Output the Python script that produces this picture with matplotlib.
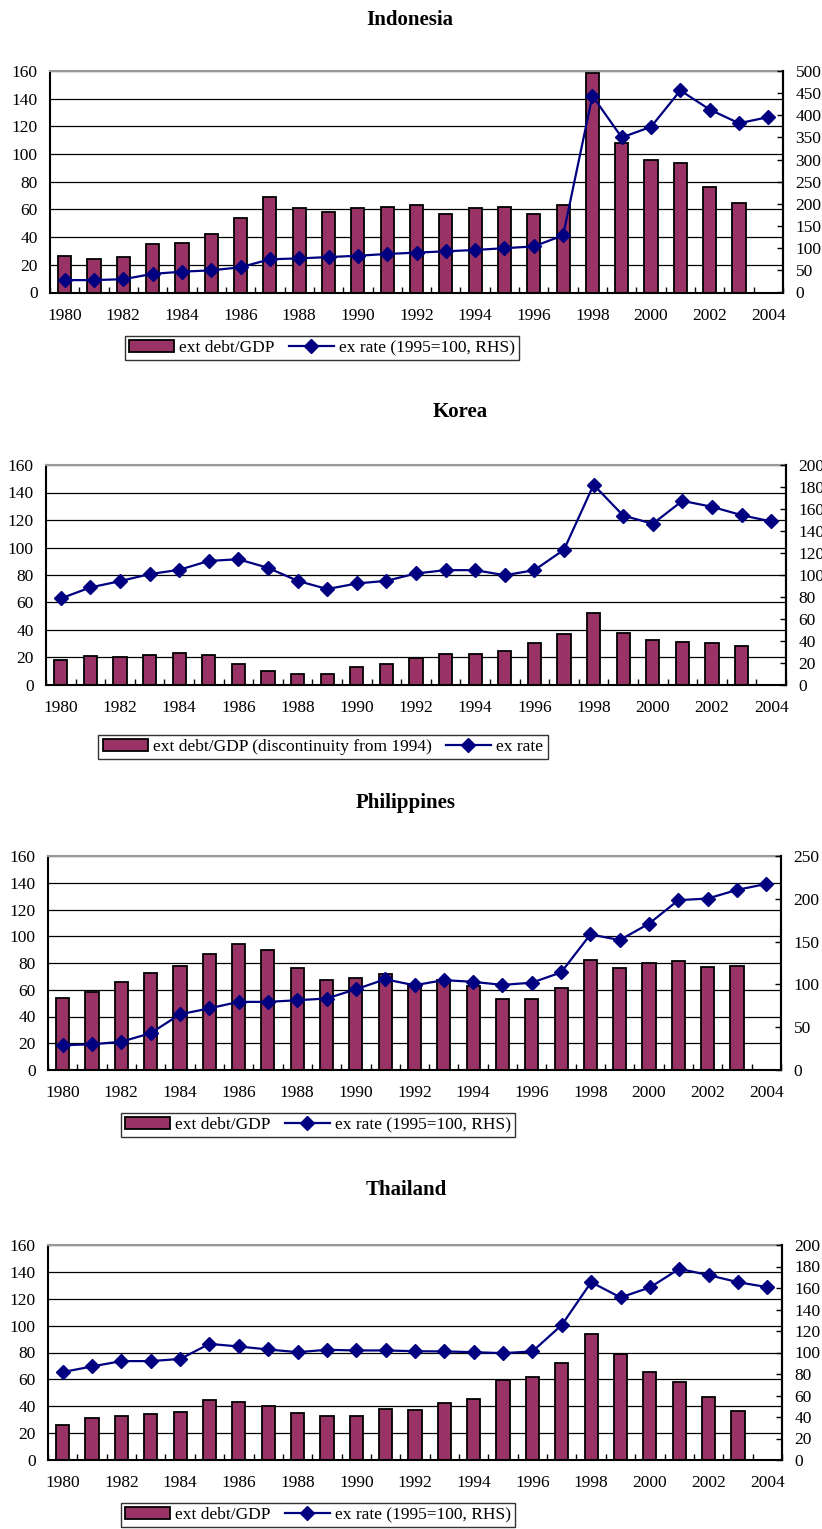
import matplotlib
matplotlib.use("Agg")
import matplotlib.pyplot as plt
import numpy as np

plt.rcParams.update({
    "font.family": "Liberation Serif",
    "font.size": 12.5,
})

W, H = 822, 1529

years = list(range(1980, 2005))
year_labels = [str(y) if y % 2 == 0 else "" for y in years]

# Indonesia
idn_debt = [26.5, 24.5, 26, 35, 36, 42, 53.5, 69, 61, 58.5, 61, 62, 63, 56.5, 61, 61.5,
            56.5, 63, 158.5, 108, 96, 93.5, 76, 64.5, np.nan]
idn_rate = [28, 28, 30, 42, 47, 50, 57, 75, 77, 80, 83, 87, 90, 93, 96, 100,
            104, 129, 444, 350, 374, 456, 413, 382, 396]

# Korea
kor_debt = [18.3, 21, 20.7, 21.5, 23, 21.7, 15.2, 10, 8.2, 8.2, 13.3, 15.2, 19.3, 22.5, 22.7,
            24.6, 30.7, 37, 52.2, 38, 32.6, 31, 30.4, 28.3, np.nan]
kor_rate = [78.7, 88.7, 94.4, 100.8, 104.7, 112.8, 114.3, 106.5, 94.7, 87.2, 92.3, 94.7, 101.4,
            104.4, 104.4, 99.8, 104.4, 123, 182, 154, 146.6, 167.4, 162, 154.4, 148.7]

# Philippines
phl_debt = [53.7, 58.4, 65.6, 72.8, 77.5, 86.7, 94.4, 89.7, 76.3, 67.1, 69, 71.8, 63.6, 67.3,
            62.9, 53.2, 53.2, 61.6, 82, 76.3, 80.2, 81.2, 77, 77.8, np.nan]
phl_rate = [29, 30, 33, 43, 65, 72, 79.6, 79.6, 81.5, 83.5, 94.3, 106, 99, 105, 103, 99.4,
            102, 114, 158.4, 151.8, 171, 198.4, 200.3, 210.4, 217.4]

# Thailand
tha_debt = [25.7, 30.9, 33.1, 34.3, 35.6, 45, 43, 40, 35, 32.6, 32.8, 38.3, 37.5, 42.2, 45.4,
            59.3, 61.7, 72.3, 93.8, 79, 65.2, 58, 46.7, 36.3, np.nan]
tha_rate = [81.8, 87, 92, 92, 94, 108, 105.6, 102.8, 100.3, 102.5, 101.9, 101.9, 101.2, 101,
            100.3, 99.4, 101, 125.6, 165.4, 151.2, 160.5, 177.8, 172, 165.4, 160.8]

BAR_COLOR = "#993366"
LINE_COLOR = "#000080"


def fig_rect(left, right, top, bottom):
    return [left / W, 1 - bottom / H, (right - left) / W, (bottom - top) / H]


def draw_panel(fig, rect, title, title_xy, debt, rate, rmax, rstep,
               bar_label, line_label, legend_xy):
    ax = fig.add_axes(rect)
    x = np.arange(len(years))
    ax.set_axisbelow(True)
    for v in range(20, 161, 20):
        ax.axhline(v, color="black", lw=0.9, zorder=0)
    bars = ax.bar(x, debt, width=0.45, color=BAR_COLOR, edgecolor="black",
                  linewidth=1.3, zorder=2)
    ax.set_xlim(-0.5, len(years) - 0.5)
    ax.set_ylim(0, 160)
    ax.set_yticks(range(0, 161, 20))
    ax.set_xticks(x)
    ax.set_xticklabels(year_labels)
    ax.set_xticks(np.arange(-0.5, len(years), 1), minor=True)
    ax.tick_params(axis="x", which="major", length=0, pad=11)
    ax.tick_params(axis="x", which="minor", direction="in", length=4, width=1)
    ax.tick_params(axis="y", length=0, pad=9)
    ax.spines["top"].set_color("#999999")
    ax.spines["top"].set_linewidth(1.5)
    for s in ("left", "bottom", "right"):
        ax.spines[s].set_linewidth(1.5)

    ax2 = ax.twinx()
    line, = ax2.plot(x, rate, color=LINE_COLOR, lw=1.6, marker="D", markersize=7,
                     zorder=3)
    ax2.set_ylim(0, rmax)
    ax2.set_yticks(np.arange(0, rmax + 1, rstep))
    ax2.tick_params(axis="y", direction="in", length=4, width=1, pad=9)
    ax2.spines["top"].set_visible(False)
    ax2.spines["right"].set_linewidth(1.5)
    ax2.spines["left"].set_visible(False)
    ax2.spines["bottom"].set_visible(False)

    fig.text(title_xy[0] / W, 1 - title_xy[1] / H, title, ha="center", va="center",
             fontsize=15, fontweight="bold")

    leg = fig.legend([bars, line], [bar_label, line_label], loc="center",
                     bbox_to_anchor=(legend_xy[0] / W, 1 - legend_xy[1] / H),
                     ncol=2, frameon=True, fancybox=False, shadow=False,
                     handlelength=2.6, handletextpad=0.3, columnspacing=0.8,
                     borderpad=0.25, fontsize=12.5)
    leg.get_frame().set_edgecolor("black")
    leg.get_frame().set_linewidth(1.0)
    return ax, ax2


def create_figure():
    fig = plt.figure(figsize=(W / 100, H / 100), dpi=100)
    draw_panel(fig, fig_rect(50, 783, 71, 292.5), "Indonesia", (410, 20),
               idn_debt, idn_rate, 500, 50,
               "ext debt/GDP", "ex rate (1995=100, RHS)", (322, 348))
    draw_panel(fig, fig_rect(46, 786, 465, 685), "Korea", (460, 412),
               kor_debt, kor_rate, 200, 20,
               "ext debt/GDP (discontinuity from 1994)", "ex rate", (323, 747))
    draw_panel(fig, fig_rect(48, 781, 856, 1070), "Philippines", (406, 803),
               phl_debt, phl_rate, 250, 50,
               "ext debt/GDP", "ex rate (1995=100, RHS)", (318, 1125))
    draw_panel(fig, fig_rect(48, 782, 1245, 1460), "Thailand", (406, 1190),
               tha_debt, tha_rate, 200, 20,
               "ext debt/GDP", "ex rate (1995=100, RHS)", (318, 1515))
    return fig


def main():
    fig = create_figure()
    fig.savefig("out.png", dpi=100, facecolor="white")
    plt.close(fig)


if __name__ == "__main__":
    main()
